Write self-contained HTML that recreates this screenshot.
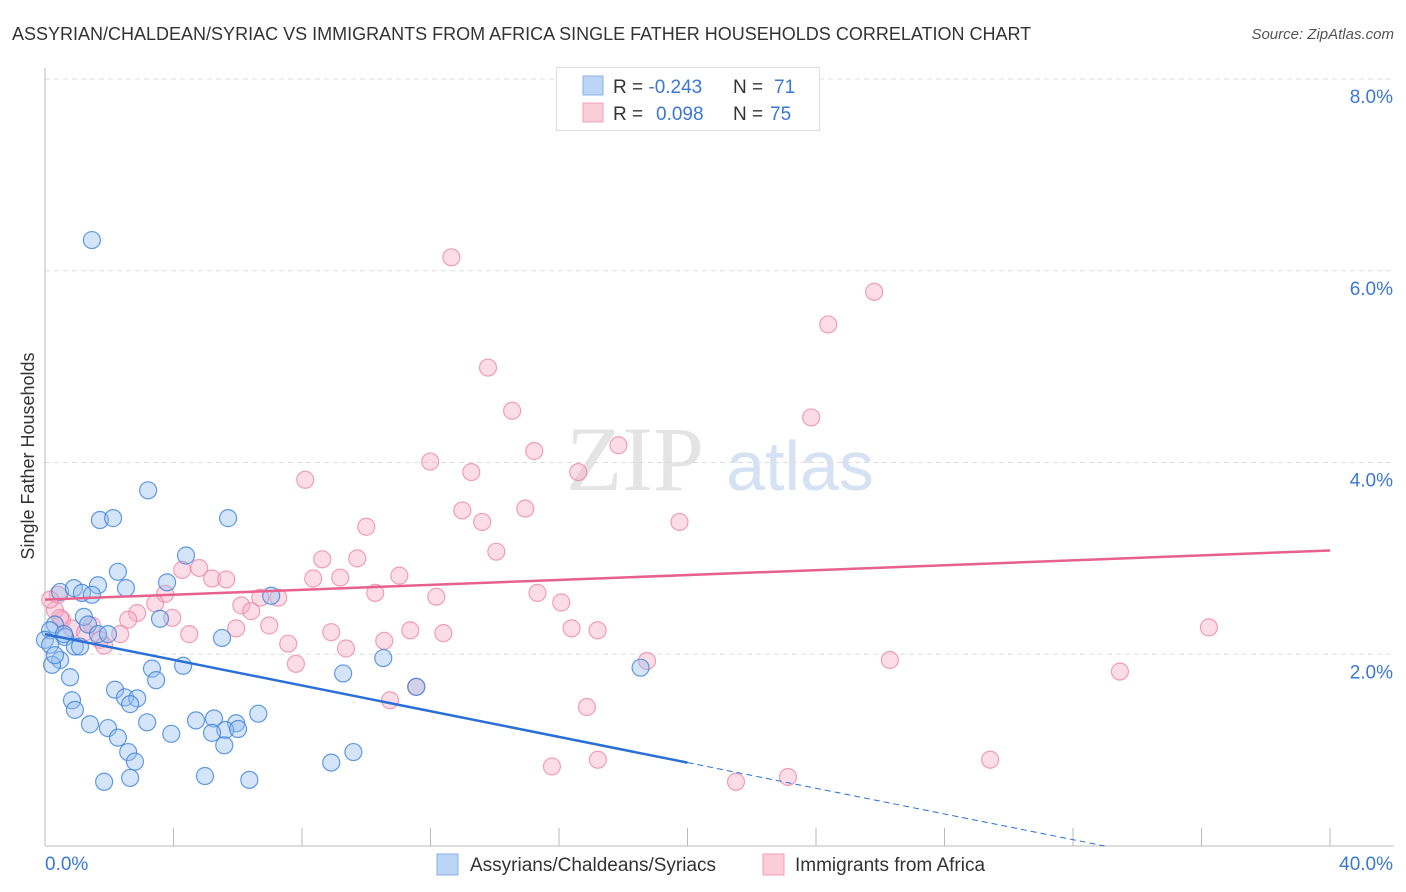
<!DOCTYPE html>
<html><head><meta charset="utf-8">
<style>
body{margin:0;background:#fff;font-family:"Liberation Sans",sans-serif;}
#wrap{position:relative;width:1406px;height:892px;overflow:hidden;}
</style></head>
<body>
<div id="wrap">
<svg id="chart" width="1406" height="892" xmlns="http://www.w3.org/2000/svg">
<text x="12" y="40" font-size="18" fill="#333">ASSYRIAN/CHALDEAN/SYRIAC VS IMMIGRANTS FROM AFRICA SINGLE FATHER HOUSEHOLDS CORRELATION CHART</text>
<text x="1394" y="39" font-size="15" fill="#555" font-style="italic" text-anchor="end">Source: ZipAtlas.com</text>
<text x="34" y="456" font-size="18" fill="#333" text-anchor="middle" transform="rotate(-90 34 456)">Single Father Households</text>
<g>
<text x="635" y="490" font-size="92" fill="#e4e4e4" font-family="Liberation Serif,serif" text-anchor="middle">ZIP</text>
<text x="800" y="490" font-size="70" fill="#d4e2f4" text-anchor="middle">atlas</text>
</g>
<g id="grid"></g>
<g id="axes"></g>
<g id="pinkPts"></g>
<g id="bluePts"></g>
<g id="lines"></g>
<g>
<rect x="556.5" y="67.5" width="263" height="63" fill="#fff" stroke="#ddd"/>
<rect x="583" y="76" width="20" height="19" fill="#bcd4f5" stroke="#8ab0e6"/>
<rect x="583" y="103" width="20" height="19" fill="#fbcdd9" stroke="#f0a0b8"/>
<text x="613" y="93" font-size="19" fill="#333">R = <tspan fill="#3a78d4">-0.243</tspan><tspan x="733">N = </tspan><tspan fill="#3a78d4" x="774">71</tspan></text>
<text x="613" y="120" font-size="19" fill="#333">R = <tspan fill="#3a78d4" x="656">0.098</tspan><tspan x="733">N = </tspan><tspan fill="#3a78d4" x="770">75</tspan></text>
</g>
<g>
<rect x="437" y="854" width="21" height="21" fill="#bcd4f5" stroke="#8ab0e6"/>
<text x="470" y="871" font-size="19" fill="#333">Assyrians/Chaldeans/Syriacs</text>
<rect x="763" y="854" width="21" height="21" fill="#fbcdd9" stroke="#f0a0b8"/>
<text x="795" y="871" font-size="19" fill="#333">Immigrants from Africa</text>
</g>
</svg>
</div>
<script>
const blueX=[1.46,3.21,1.71,2.12,5.70,4.39,2.27,3.80,1.65,2.52,0.47,0.90,1.15,1.46,7.04,3.58,1.21,1.34,0.31,0.16,0.62,1.65,1.96,5.51,0.47,0.93,0.22,0.0,3.33,4.30,3.46,0.78,9.28,10.53,18.54,2.18,0.84,2.49,2.87,2.65,0.93,6.64,4.70,5.26,5.95,1.40,1.96,3.18,5.61,6.01,2.27,3.93,5.20,5.58,2.59,9.60,2.80,8.91,4.98,1.84,2.65,6.36,11.56,0.16,1.09,0.59,0.31];
const blueY=[6.32,3.71,3.40,3.42,3.42,3.03,2.86,2.75,2.72,2.69,2.65,2.69,2.64,2.62,2.61,2.37,2.39,2.31,2.31,2.25,2.18,2.21,2.21,2.17,1.94,2.08,1.89,2.15,1.85,1.88,1.73,1.76,1.80,1.96,1.86,1.63,1.52,1.55,1.54,1.48,1.42,1.38,1.31,1.33,1.28,1.27,1.23,1.29,1.21,1.22,1.13,1.17,1.18,1.05,0.98,0.98,0.88,0.87,0.73,0.67,0.71,0.69,1.66,2.10,2.08,2.21,1.99];
const pinkX=[12.65,25.81,24.38,13.79,14.54,23.85,15.23,17.85,11.99,13.27,16.60,8.10,12.99,14.95,13.61,19.75,10.00,14.05,8.63,9.72,4.80,4.27,5.20,5.64,8.35,9.19,11.03,6.70,7.26,10.28,15.33,12.18,3.74,0.40,16.07,3.43,6.11,6.42,2.87,2.59,3.96,6.98,5.95,16.39,17.20,11.37,12.40,4.49,8.91,10.56,7.57,9.37,2.34,1.71,0.84,0.53,0.31,0.16,1.84,1.46,1.25,7.81,18.74,26.30,33.46,36.23,11.55,10.74,16.87,17.21,15.78,21.51,23.13,29.42,0.47];
const pinkY=[6.14,5.78,5.44,4.99,4.54,4.47,4.12,4.18,4.01,3.90,3.90,3.82,3.50,3.52,3.38,3.38,3.33,3.07,2.99,3.00,2.90,2.88,2.79,2.78,2.79,2.80,2.82,2.59,2.59,2.64,2.64,2.60,2.63,2.62,2.54,2.53,2.51,2.45,2.43,2.36,2.38,2.30,2.27,2.27,2.25,2.25,2.22,2.21,2.23,2.14,2.11,2.06,2.21,2.15,2.27,2.36,2.46,2.57,2.09,2.30,2.23,1.90,1.93,1.94,1.82,2.28,1.66,1.52,1.45,0.90,0.83,0.67,0.72,0.90,2.38];
const yTicks=[2,4,6,8];
const yTickLabels=["2.0%","4.0%","6.0%","8.0%"];
const xTicks=[0,4,8,12,16,20,24,28,32,36,40];
const blueTrend=[2.21,-0.067]; // intercept, slope
const blueSolidEnd=20;
const pinkTrend=[2.57,0.0128];

const NS="http://www.w3.org/2000/svg";
const X0=45,X1=1330,Y0=846,Y8=79;
const xs=v=>X0+(X1-X0)*v/40;
const ys=v=>Y0-(Y0-Y8)*v/8;
function el(tag,attrs,parent){const e=document.createElementNS(NS,tag);for(const k in attrs)e.setAttribute(k,attrs[k]);parent.appendChild(e);return e;}
const grid=document.getElementById('grid'),axes=document.getElementById('axes');
yTicks.forEach((t,i)=>{
  const g=el('line',{x1:X0,x2:1394,y1:ys(t),y2:ys(t),stroke:'#ddd','stroke-dasharray':'5,4'},grid);
  
  
  const tx=el('text',{x:1393,y:ys(t)+24,'font-size':19,fill:'#3a78d4','text-anchor':'end'},axes);
  tx.textContent=yTickLabels[i];
  
  
});
const ax=el('line',{x1:X0,x2:X0,y1:68,y2:Y0,stroke:'#bbb'},axes);


const bx=el('line',{x1:X0,x2:1394,y1:Y0,y2:Y0,stroke:'#bbb'},axes);


xTicks.forEach(t=>{
  const l=el('line',{x1:xs(t),x2:xs(t),y1:Y0,y2:Y0-18,stroke:'#bbb'},axes);
  
  
});
const xl=el('text',{x:45,y:870,'font-size':19,fill:'#3a78d4'},axes);xl.textContent='0.0%';


const xr=el('text',{x:1393,y:870,'font-size':19,fill:'#3a78d4','text-anchor':'end'},axes);xr.textContent='40.0%';


const pg=document.getElementById('pinkPts');
pinkX.forEach((x,i)=>{
  const c=el('circle',{cx:xs(x),cy:ys(pinkY[i]),r:8.5,fill:'rgba(248,170,195,0.4)',stroke:'rgba(235,130,165,0.75)','stroke-width':1.2},pg);
  
  
});
const bg=document.getElementById('bluePts');
blueX.forEach((x,i)=>{
  const c=el('circle',{cx:xs(x),cy:ys(blueY[i]),r:8.5,fill:'rgba(150,190,240,0.4)',stroke:'rgba(60,130,220,0.8)','stroke-width':1.2},bg);
  
  
});
const lg=document.getElementById('lines');
const bz=-blueTrend[0]/blueTrend[1];
const b1=el('line',{x1:xs(0),y1:ys(blueTrend[0]),x2:xs(blueSolidEnd),y2:ys(blueTrend[0]+blueTrend[1]*blueSolidEnd),stroke:'#2a6fd8','stroke-width':2.5},lg);


const b2=el('line',{x1:xs(blueSolidEnd),y1:ys(blueTrend[0]+blueTrend[1]*blueSolidEnd),x2:xs(bz),y2:ys(0),stroke:'#2a6fd8','stroke-width':1,'stroke-dasharray':'6,4'},lg);


const p1=el('line',{x1:xs(0),y1:ys(pinkTrend[0]),x2:xs(40),y2:ys(pinkTrend[0]+pinkTrend[1]*40),stroke:'#e8608c','stroke-width':2.5},lg);


</script>
</body></html>
